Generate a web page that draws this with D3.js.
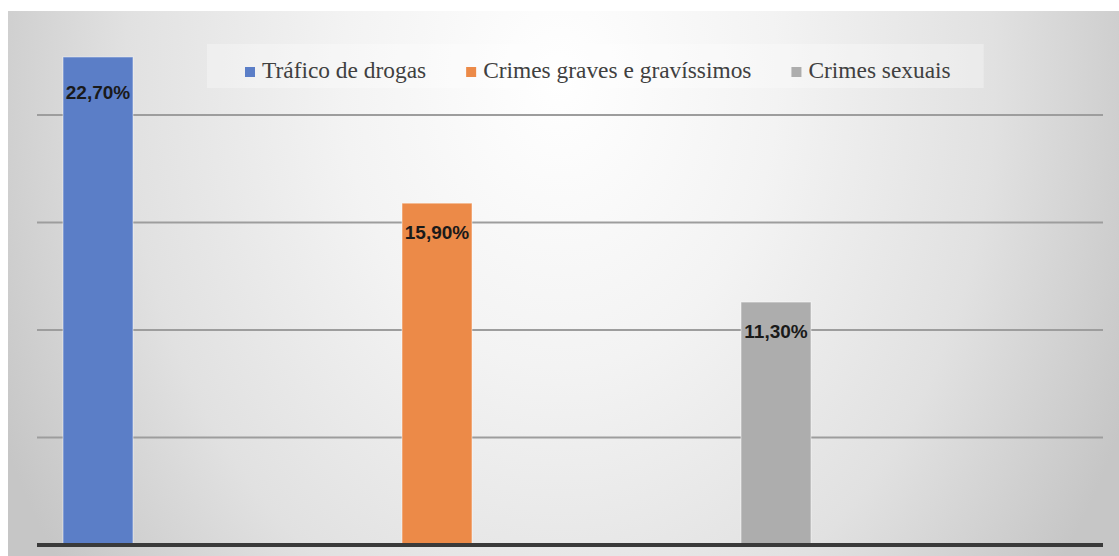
<!DOCTYPE html>
<html>
<head>
<meta charset="utf-8">
<script src="https://cdn.jsdelivr.net/npm/d3@7"></script>
<style>
  body { margin: 0; background: #ffffff; }
  svg { display: block; }
</style>
</head>
<body>
<div id="chart"></div>
<script>
// chart data
var series = ["Tráfico de drogas", "Crimes graves e gravíssimos", "Crimes sexuais"];
var values = [22.7, 15.9, 11.3];
var colors = ["#5b7ec7", "#ec8a48", "#adadad"];
var gridTicks = [5, 10, 15, 20];

var svgWidth = 1119;
var svgHeight = 556;

var svg = d3.select("#chart")
  .append("svg")
  .attr("width", svgWidth)
  .attr("height", svgHeight);

// background gradient (light centre, grey edges)
var defs = svg.append("defs");
var grad = defs.append("radialGradient")
  .attr("id", "bg")
  .attr("gradientUnits", "userSpaceOnUse")
  .attr("cx", 0).attr("cy", 0).attr("r", 1)
  .attr("gradientTransform", "translate(560,80) scale(620,820)");
grad.append("stop").attr("offset", 0).attr("stop-color", "#ffffff");
grad.append("stop").attr("offset", 0.35).attr("stop-color", "#f3f3f3");
grad.append("stop").attr("offset", 0.7).attr("stop-color", "#e1e1e1");
grad.append("stop").attr("offset", 1).attr("stop-color", "#c6c6c6");

svg.append("rect")
  .attr("x", 8).attr("y", 11)
  .attr("width", svgWidth - 8).attr("height", svgHeight - 11)
  .attr("fill", "url(#bg)");

// scales
var x = d3.scalePoint()
  .domain(series)
  .range([98, 776]);
var barWidth = 70;

var y = d3.scaleLinear()
  .domain([0, 25])
  .range([545, 7.5]);

// gridlines
svg.append("g")
  .selectAll("line")
  .data(gridTicks)
  .enter()
  .append("line")
  .attr("x1", 37).attr("x2", 1103)
  .attr("y1", d => y(d)).attr("y2", d => y(d))
  .attr("stroke", "#9d9d9d")
  .attr("stroke-width", 2);

// bars
svg.append("g")
  .selectAll("rect")
  .data(values)
  .enter()
  .append("rect")
  .attr("x", (d, i) => x(series[i]) - barWidth / 2)
  .attr("y", d => y(d))
  .attr("width", barWidth)
  .attr("height", d => y(0) - y(d))
  .attr("fill", (d, i) => colors[i])
  .attr("stroke", "rgba(255,255,255,0.5)")
  .attr("stroke-width", 1);

// baseline
svg.append("line")
  .attr("x1", 37).attr("x2", 1103)
  .attr("y1", y(0)).attr("y2", y(0))
  .attr("stroke", "#3a3a3a")
  .attr("stroke-width", 4);

// value labels (top label sits a bit lower, under the legend band)
var ptBR = d3.formatLocale({ decimal: ",", thousands: ".", grouping: [3], currency: ["R$", ""] });
var fmt = ptBR.format(".2f");

svg.append("g")
  .selectAll("text")
  .data(values)
  .enter()
  .append("text")
  .attr("x", (d, i) => x(series[i]))
  .attr("y", (d, i) => y(d) + (i === 0 ? 42 : 36))
  .attr("text-anchor", "middle")
  .style("font-family", "'Liberation Sans', Arial, sans-serif")
  .style("font-weight", "bold")
  .style("font-size", "19px")
  .style("fill", "#1a1a1a")
  .text(d => fmt(d) + "%");

// legend
var legendBox = svg.append("rect")
  .attr("fill", "#ffffff")
  .attr("opacity", 0.3);

var legend = svg.append("g");
var lx = 245;
series.forEach(function(name, i) {
  legend.append("rect")
    .attr("x", lx).attr("y", 67)
    .attr("width", 10).attr("height", 10)
    .attr("fill", colors[i]);
  var t = legend.append("text")
    .attr("x", lx + 17)
    .attr("y", 78)
    .style("font-family", "'Liberation Serif', 'Times New Roman', serif")
    .style("font-size", "23.4px")
    .style("fill", "#404040")
    .text(name);
  lx = lx + 17 + t.node().getComputedTextLength() + 40;
});

legendBox
  .attr("x", 207).attr("y", 44)
  .attr("width", (lx - 40 + 33) - 207)
  .attr("height", 44);
</script>
</body>
</html>
